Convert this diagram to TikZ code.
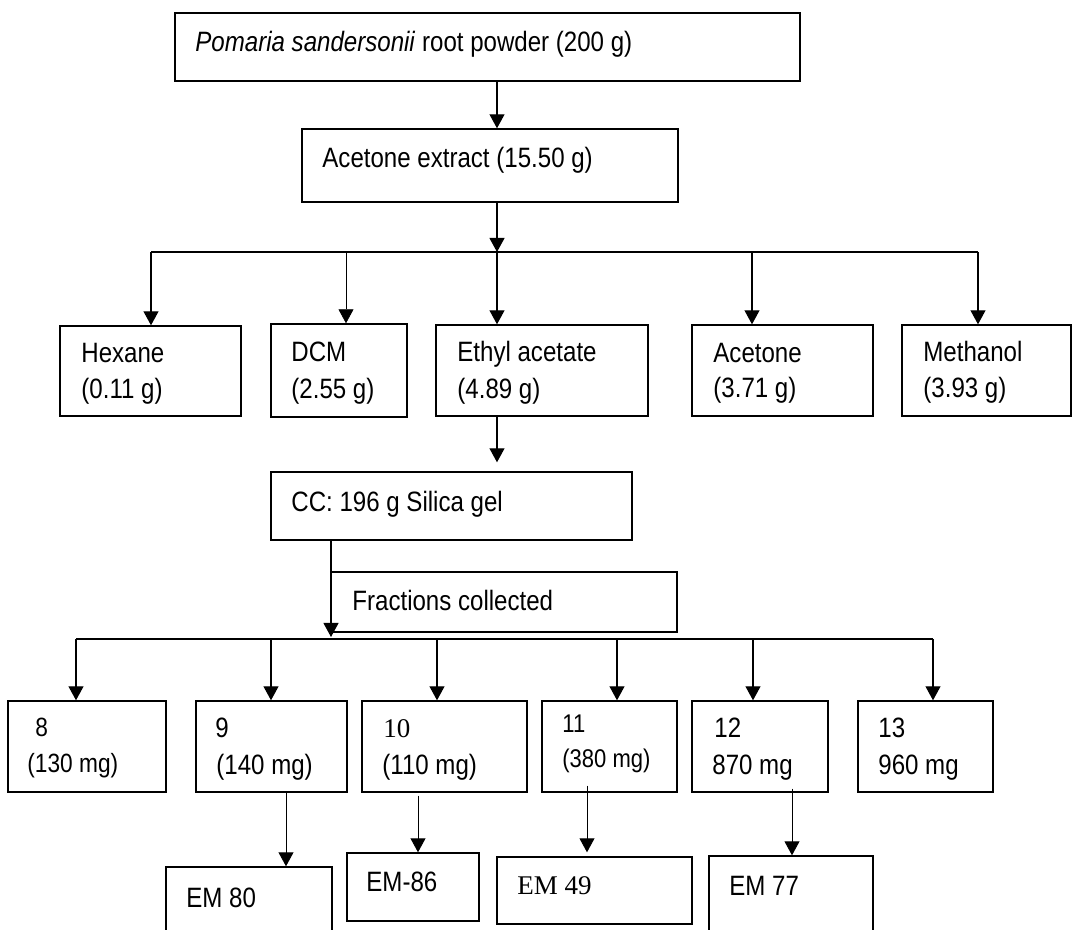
\documentclass[tikz,border=0pt]{standalone}
\usepackage{fontspec}
\setmainfont{Liberation Sans}[FakeStretch=0.86]
\newfontfamily\tnr{Liberation Serif}
\usetikzlibrary{arrows.meta,fit}
\begin{document}
\begin{tikzpicture}[x=0.5pt,y=-0.5pt,
  box/.style={draw, line width=0.7pt, inner sep=0pt},
  txt/.style={anchor=base west, inner sep=0pt, font=\fontsize{14}{16}\selectfont},
  midtxt/.style={txt, font=\fontsize{13.2}{15}\selectfont},
  smalltxt/.style={txt, font=\fontsize{12.8}{15}\selectfont},
  sertxt/.style={txt, font=\tnr\fontsize{13.5}{16}\selectfont},
  ln/.style={line width=0.55pt},
  arr/.style={line width=0.55pt, -{Triangle[width=7.5pt,length=7pt]}},
  thinarr/.style={line width=0.45pt, -{Triangle[width=7.5pt,length=7pt]}}]
\useasboundingbox (0,0) rectangle (1072,930);
\clip (0,0) rectangle (1072,930);

% boxes
\node[box, fit={(175,13) (800,81)}] (top) {};
\node[box, fit={(302,129) (678,202)}] (acet) {};
\node[box, fit={(60,326) (241,416)}] (hex) {};
\node[box, fit={(271,324) (407,417)}] (dcm) {};
\node[box, fit={(436,325) (648,416)}] (eth) {};
\node[box, fit={(692,325) (873,416)}] (ace) {};
\node[box, fit={(902,325) (1071,416)}] (met) {};
\node[box, fit={(271,472) (632,540)}] (cc) {};
\node[box, fit={(331,572) (677,632)}] (frac) {};
\node[box, fit={(8,701) (166,792)}] (b8) {};
\node[box, fit={(196,701) (347,792)}] (b9) {};
\node[box, fit={(362,701) (527,792)}] (b10) {};
\node[box, fit={(542,701) (677,792)}] (b11) {};
\node[box, fit={(692,701) (828,792)}] (b12) {};
\node[box, fit={(858,701) (993,792)}] (b13) {};
\node[box, fit={(166,867) (332,940)}] (em80) {};
\node[box, fit={(347,853) (479,921)}] (em86) {};
\node[box, fit={(497,857) (692,924)}] (em49) {};
\node[box, fit={(709,856) (873,940)}] (em77) {};

% texts
\node[txt] (ttop) at (195,52) {\textit{Pomaria sandersonii} root powder (200 g)};
\node[txt] (tacet) at (322,168) {Acetone extract (15.50 g)};
\node[txt] (thex1) at (81,363) {Hexane};
\node[txt] (thex2) at (81,399) {(0.11 g)};
\node[txt] (tdcm1) at (291,362) {DCM};
\node[txt] (tdcm2) at (291,399) {(2.55 g)};
\node[txt] (teth1) at (457,362) {Ethyl acetate};
\node[txt] (teth2) at (457,399) {(4.89 g)};
\node[txt] (tace1) at (713,363) {Acetone};
\node[txt] (tace2) at (713,398) {(3.71 g)};
\node[txt] (tmet1) at (923,362) {Methanol};
\node[txt] (tmet2) at (923,398) {(3.93 g)};
\node[txt] (tcc) at (291,512) {CC: 196 g Silica gel};
\node[txt] (tfrac) at (352,611) {Fractions collected};
\node[midtxt] (t8a) at (35,736) {8};
\node[midtxt] (t8b) at (27,772) {(130 mg)};
\node[txt] (t9a) at (215,738) {9};
\node[txt] (t9b) at (216,775) {(140 mg)};
\node[sertxt] (t10a) at (383,738) {10};
\node[txt] (t10b) at (382,774) {(110 mg)};
\node[smalltxt] (t11a) at (562,733) {11};
\node[smalltxt] (t11b) at (562,768) {(380 mg)};
\node[txt] (t12a) at (714,738) {12};
\node[txt] (t12b) at (712,775) {870 mg};
\node[txt] (t13a) at (878,738) {13};
\node[txt] (t13b) at (878,775) {960 mg};
\node[txt] (tem80) at (186,907) {EM 80};
\node[txt] (tem86) at (366,891) {EM-86};
\node[sertxt] (tem49) at (517,894) {EM 49};
\node[txt] (tem77) at (729,895) {EM 77};

% connector coordinates
\coordinate (xm) at (497,0);
\coordinate (bus1) at (497,252);
\coordinate (busL) at (151,252);
\coordinate (busD) at (346,252);
\coordinate (busA) at (752,252);
\coordinate (busR) at (978,252);
\coordinate (bus2) at (331,639);
\coordinate (b2L) at (76,639);
\coordinate (b2n9) at (271,639);
\coordinate (b2n10) at (437,639);
\coordinate (b2n11) at (617,639);
\coordinate (b2n12) at (753,639);
\coordinate (b2R) at (933,639);
\coordinate (s9) at (286,0);
\coordinate (s10) at (418,0);
\coordinate (s11) at (587,0);
\coordinate (s12) at (792,0);

% top part
\draw[arr] (xm |- top.south) -- (xm |- acet.north);
\draw[arr] (xm |- acet.south) -- (bus1);
\draw[ln] (busL) -- (busR);
\draw[arr] (busL) -- (busL |- hex.north);
\draw[thinarr, line width=0.35pt] (busD) -- (busD |- dcm.north);
\draw[arr] (bus1) -- (bus1 |- eth.north);
\draw[arr] (busA) -- (busA |- ace.north);
\draw[arr] (busR) -- (busR |- met.north);

% column chromatography
\draw[arr, shorten >=4.5pt] (xm |- eth.south) -- (xm |- cc.north);
\draw[arr, shorten >=1pt] (bus2 |- cc.south) -- (bus2);
\draw[ln] (b2L) -- (b2R);
\draw[arr] (b2L) -- (b2L |- b8.north);
\draw[arr] (b2n9) -- (b2n9 |- b9.north);
\draw[arr] (b2n10) -- (b2n10 |- b10.north);
\draw[arr] (b2n11) -- (b2n11 |- b11.north);
\draw[arr] (b2n12) -- (b2n12 |- b12.north);
\draw[arr] (b2R) -- (b2R |- b13.north);

% sub-fractions
\draw[thinarr] (s9 |- b9.south) -- (s9 |- em80.north);
\draw[thinarr, shorten <=1.5pt] (s10 |- b10.south) -- (s10 |- em86.north);
\draw[thinarr, shorten <=-3.5pt, shorten >=2pt] (s11 |- b11.south) -- (s11 |- em49.north);
\draw[thinarr, shorten <=-2pt] (s12 |- b12.south) -- (s12 |- em77.north);
\end{tikzpicture}
\end{document}
